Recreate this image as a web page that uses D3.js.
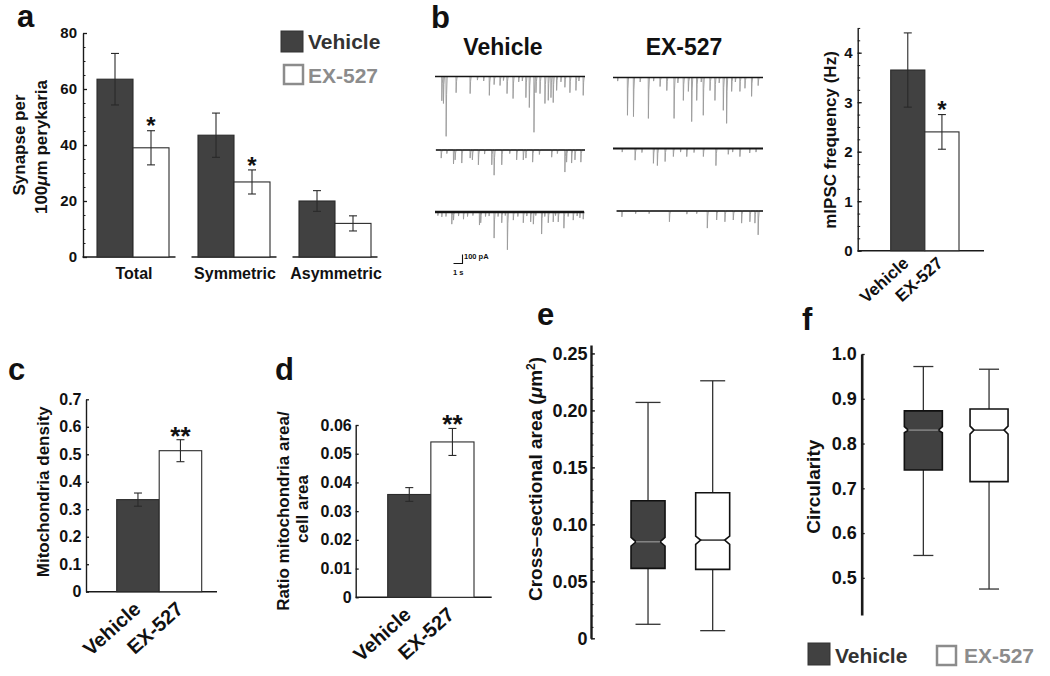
<!DOCTYPE html>
<html><head><meta charset="utf-8">
<script src="https://cdn.jsdelivr.net/npm/d3@7"></script>
<style>
body{margin:0;background:#fff;}
svg{display:block;}
</style></head><body>
<svg id="fig" width="1050" height="676"></svg>
<script>
// ---------------- DATA ----------------
const groups = ["Vehicle", "EX-527"];

// a: synapses per 100 µm perykaria
const synapseCategories = ["Total", "Symmetric", "Asymmetric"];
const synapseVehicle = [63.5, 43.5, 20.0];
const synapseVehicleErr = [9.2, 7.9, 3.7];
const synapseEX = [39.0, 26.8, 12.0];
const synapseEXErr = [6.1, 4.3, 2.7];
const synapseSig = ["*", "*", ""];
const synapseTicks = [0, 20, 40, 60, 80];
const synapseMinor = d3.range(0, 81, 5);

// b: mIPSC frequency
const mipscValues = [3.65, 2.40];
const mipscErr = [0.75, 0.35];
const mipscSig = ["", "*"];
const mipscTicks = [0, 1, 2, 3, 4];
const mipscMinor = d3.range(0, 4.51, 0.25);

// b: example traces, events [time s, amplitude pA]
const traceVehicle1 = [[0.74,270],[0.92,300],[1.22,665],[2.33,180],[3.89,190],[4.7,40],[5.4,50],[6.03,210],[6.56,90],[7.22,100],[7.6,45],[8.0,190],[8.67,245],[9.3,60],[9.7,50],[10.1,235],[10.48,345],[11.0,620],[11.22,180],[11.67,190],[12.22,300],[12.59,265],[12.89,235],[13.14,290],[13.52,155],[14.0,60],[14.44,120],[15.0,180],[15.67,155],[16.0,50],[16.48,210]];
const traceVehicle2 = [[0.67,90],[1.3,40],[2.04,155],[2.22,110],[2.96,145],[3.89,90],[4.14,110],[4.81,165],[5.5,45],[6.3,165],[6.56,280],[7.41,165],[8.3,40],[9.07,110],[9.81,110],[10.1,90],[10.85,135],[11.6,50],[12.97,80],[13.6,40],[14.44,245],[14.63,135],[15.19,145],[15.56,110],[16.22,135]];
const traceVehicle3 = [[0.3,40],[0.74,55],[1.2,50],[1.85,135],[2.04,90],[2.6,45],[3.15,80],[3.6,50],[4.2,40],[4.93,145],[5.07,120],[5.6,50],[6.0,45],[6.56,290],[7.0,50],[7.41,120],[7.8,40],[8.04,420],[8.7,90],[9.2,50],[9.81,120],[10.2,45],[10.63,110],[10.93,135],[11.2,40],[11.85,245],[12.2,50],[12.59,120],[13.14,110],[13.4,40],[13.7,110],[14.33,180],[14.8,50],[15.37,90],[15.8,45],[16.11,65],[16.48,80]];
const traceEX1 = [[0.5,40],[1.59,420],[2.26,435],[3.0,50],[3.92,455],[4.5,40],[5.22,100],[5.97,145],[6.78,455],[7.2,60],[7.81,255],[8.37,155],[8.74,490],[9.3,255],[9.8,50],[10.03,420],[10.78,145],[11.33,255],[11.8,60],[12.26,365],[12.63,510],[13.19,155],[13.6,50],[14.11,155],[14.67,120],[15.41,210],[16.14,90]];
const traceEX2 = [[1.0,40],[2.44,130],[3.2,45],[4.48,165],[4.92,190],[5.78,145],[6.7,90],[7.5,40],[8.19,90],[9.0,45],[10.04,90],[11.44,190],[12.81,65],[13.3,40],[14.11,90],[15.2,50],[15.9,40]];
const traceEX3 = [[0.97,65],[2.5,30],[4.0,30],[6.26,120],[8.2,35],[9.3,30],[10.48,190],[11.52,100],[12.44,120],[13.37,100],[14.3,135],[15.22,120],[15.78,135],[16.14,265]];

// c: mitochondria density
const densityValues = [0.335, 0.513];
const densityErr = [0.024, 0.040];
const densitySig = ["", "**"];
const densityTicks = [0, 0.1, 0.2, 0.3, 0.4, 0.5, 0.6, 0.7];

// d: ratio mitochondria area / cell area
const ratioValues = [0.0358, 0.0541];
const ratioErr = [0.0024, 0.0047];
const ratioSig = ["", "**"];
const ratioTicks = [0, 0.01, 0.02, 0.03, 0.04, 0.05, 0.06];

// e, f: box stats [lowWhisker, q1, notchLow, median, notchHigh, q3, highWhisker]
const areaVehicle = [0.0123, 0.0614, 0.0810, 0.0847, 0.0886, 0.1207, 0.2070];
const areaEX = [0.0067, 0.0605, 0.0825, 0.0862, 0.0897, 0.1277, 0.2260];
const areaTicks = [0, 0.05, 0.10, 0.15, 0.20, 0.25];
const areaMinor = d3.range(0, 0.255, 0.01);
const circVehicle = [0.550, 0.741, 0.824, 0.830, 0.838, 0.873, 0.972];
const circEX = [0.475, 0.715, 0.821, 0.830, 0.839, 0.877, 0.966];
const circTicks = [0.5, 0.6, 0.7, 0.8, 0.9, 1.0];

// ---------------- STYLE ----------------
const FONT = "'Liberation Sans', Arial, Helvetica, sans-serif";
const DARK = "#414141";
const EDGE = "#2b2b2b";
const GREY = "#8c8c8c";
const svg = d3.select("#fig").attr("font-family", FONT).attr("font-weight", "bold");

function txt(x, y, s, size, opts = {}) {
  const t = svg.append("text").attr("x", x).attr("y", y).text(s)
    .attr("font-size", size).attr("font-weight", "bold").attr("fill", opts.fill || "#111")
    .attr("text-anchor", opts.anchor || "start");
  if (opts.rotate !== undefined) t.attr("transform", `rotate(${opts.rotate},${x},${y})`);
  return t;
}

function yAxis(x, scale, ticks, fmt, fs, pad, minor, sw, tickLen) {
  const g = svg.append("g").attr("transform", `translate(${x},0)`);
  g.call(d3.axisLeft(scale).tickValues(ticks).tickFormat(fmt).tickSize(-tickLen).tickSizeOuter(0).tickPadding(pad));
  g.attr("font-family", FONT).attr("font-size", fs).attr("font-weight", "bold");
  g.select(".domain").attr("stroke", "#1a1a1a").attr("stroke-width", sw);
  g.selectAll(".tick line").attr("stroke", "#1a1a1a").attr("stroke-width", 1.3);
  g.selectAll(".tick text").attr("fill", "#111");
  if (minor) {
    const m = svg.append("g").attr("transform", `translate(${x},0)`);
    m.call(d3.axisLeft(scale).tickValues(minor).tickFormat("").tickSize(-2.5).tickSizeOuter(0));
    m.select(".domain").remove();
    m.selectAll(".tick line").attr("stroke", "#1a1a1a").attr("stroke-width", 1);
  }
  return g;
}

function bar(x, w, y, v, fill) {
  svg.append("rect").attr("x", x).attr("width", w).attr("y", y(v)).attr("height", y(0) - y(v))
    .attr("fill", fill).attr("stroke", EDGE).attr("stroke-width", 1.1);
}
function errBar(cx, y, v, e) {
  const g = svg.append("g").attr("stroke", "#2a2a2a").attr("stroke-width", 1.1);
  g.append("line").attr("x1", cx).attr("x2", cx).attr("y1", y(v - e)).attr("y2", y(v + e));
  g.append("line").attr("x1", cx - 4).attr("x2", cx + 4).attr("y1", y(v - e)).attr("y2", y(v - e));
  g.append("line").attr("x1", cx - 4).attr("x2", cx + 4).attr("y1", y(v + e)).attr("y2", y(v + e));
}
function sigMark(cx, y, v, e, s, fs) {
  if (!s) return;
  txt(cx, y(v + e) - 10 + 0.57 * fs, s, fs, { anchor: "middle" });
}
function panelLabel(x, y, s) { txt(x, y, s, 31); }

// ---------------- PANEL a ----------------
panelLabel(17, 27, "a");
const ya = d3.scaleLinear().domain([0, 80]).range([257, 33]);
const xa = d3.scaleBand().domain(synapseCategories).range([82.5, 385.5]);
const xaInner = d3.scaleBand().domain(groups).range([0, 72]);
yAxis(83, ya, synapseTicks, d3.format("d"), 15, 6, synapseMinor, 1.4, 4);
synapseCategories.forEach((c, i) => {
  const c0 = xa(c) + xa.bandwidth() / 2 - 36;
  const bw = xaInner.bandwidth();
  svg.append("line").attr("x1", i === 0 ? xa(c) : xa(c) + 8).attr("x2", xa(c) + xa.bandwidth() - 8)
    .attr("y1", ya(0)).attr("y2", ya(0)).attr("stroke", "#1a1a1a").attr("stroke-width", 1.4);
  bar(c0 + xaInner("Vehicle"), bw, ya, synapseVehicle[i], DARK);
  bar(c0 + xaInner("EX-527"), bw, ya, synapseEX[i], "#fff");
  errBar(c0 + xaInner("Vehicle") + bw / 2, ya, synapseVehicle[i], synapseVehicleErr[i]);
  errBar(c0 + xaInner("EX-527") + bw / 2, ya, synapseEX[i], synapseEXErr[i]);
  sigMark(c0 + xaInner("EX-527") + bw / 2, ya, synapseEX[i], synapseEXErr[i], synapseSig[i], 24);
  txt(xa(c) + xa.bandwidth() / 2 + 1, 278.5, c, 16, { anchor: "middle" });
});
txt(24.5, 145, "Synapse per", 17, { anchor: "middle", rotate: -90 });
const aLab = txt(47, 147, "100", 17, { anchor: "middle", rotate: -90 });
aLab.append("tspan").attr("font-style", "italic").text("\u03BC");
aLab.append("tspan").text("m perykaria");
// legend a
svg.append("rect").attr("x", 281).attr("y", 31).attr("width", 22).attr("height", 21).attr("fill", DARK).attr("stroke", "#333");
txt(308, 49, groups[0], 21, { fill: "#333" });
svg.append("rect").attr("x", 284).attr("y", 65).attr("width", 19).attr("height", 19).attr("fill", "#fff").attr("stroke", GREY).attr("stroke-width", 2.5);
txt(308, 83, groups[1], 21, { fill: GREY });

// ---------------- PANEL b traces ----------------
panelLabel(431, 28, "b");
txt(503, 55, "Vehicle", 23, { anchor: "middle" });
txt(684, 55, "EX-527", 23, { anchor: "middle" });
const tScale = d3.scaleLinear().domain([0, 16.7]).range([0, 150]);
const aScale = d3.scaleLinear().domain([0, 100]).range([0, 9]);
function drawTrace(events, x0, baseY, t0, t1, dark) {
  const pts = [[t0, 0]];
  events.slice().sort((a, b) => a[0] - b[0]).forEach(([t, a]) => {
    pts.push([t, 0], [t + 0.02, a], [t + 0.07, a * 0.3], [t + 0.14, 0]);
  });
  pts.push([t1, 0]);
  const line = d3.line().x(d => x0 + tScale(d[0])).y(d => baseY + aScale(d[1]));
  svg.append("path").attr("d", line(pts)).attr("fill", "none").attr("stroke", "#9a9a9a").attr("stroke-width", 0.9);
  svg.append("line").attr("x1", x0 + tScale(t0)).attr("x2", x0 + tScale(t1)).attr("y1", baseY).attr("y2", baseY)
    .attr("stroke", "#151515").attr("stroke-width", dark || 1.6);
}
drawTrace(traceVehicle1, 435, 76.5, 0, 16.7);
drawTrace(traceVehicle2, 435, 150, 0.1, 16.7);
drawTrace(traceVehicle3, 435, 212, 0, 16.6, 2.3);
drawTrace(traceEX1, 613, 77.5, 0, 16.7);
drawTrace(traceEX2, 613, 148.5, 0, 16.7, 1.9);
drawTrace(traceEX3, 613, 211, 0.4, 16.7);
// scale bar: 1 s, 100 pA
const sbX = 462.5, sbY = 263.5;
svg.append("path").attr("d", `M${sbX - tScale(1)},${sbY}H${sbX}V${sbY - aScale(100)}`)
  .attr("fill", "none").attr("stroke", "#111").attr("stroke-width", 1.1);
txt(464, 259, "100 pA", 7.5);
txt(453, 275, "1 s", 7.5);

// ---------------- PANEL b bars ----------------
const yb = d3.scaleLinear().domain([0, 4.5]).range([250.7, 27.95]);
const xb = d3.scaleBand().domain(groups).range([890.7, 959]);
yAxis(857.7, yb, mipscTicks, d3.format("d"), 15, 5, mipscMinor, 1.4, 4);
svg.append("line").attr("x1", 857.7).attr("x2", 984).attr("y1", yb(0)).attr("y2", yb(0)).attr("stroke", "#1a1a1a").attr("stroke-width", 1.4);
groups.forEach((gname, i) => {
  bar(xb(gname), xb.bandwidth(), yb, mipscValues[i], i === 0 ? DARK : "#fff");
  const cx = xb(gname) + xb.bandwidth() / 2;
  errBar(cx, yb, mipscValues[i], mipscErr[i]);
  sigMark(cx, yb, mipscValues[i], mipscErr[i], mipscSig[i], 24);
  txt(cx + 2, yb(0) + 14, gname, 17, { anchor: "end", rotate: -42 });
});
txt(835.5, 140, "mIPSC frequency (Hz)", 17, { anchor: "middle", rotate: -90 });

// ---------------- PANEL c ----------------
panelLabel(8, 380, "c");
const yc = d3.scaleLinear().domain([0, 0.7]).range([591.7, 399.3]);
const xc = d3.scaleBand().domain(groups).range([116.7, 201.7]);
yAxis(86, yc, densityTicks, d => d === 0 ? "0" : d3.format(".1f")(d), 16, 4.5, null, 1.4, 3);
svg.append("line").attr("x1", 86).attr("x2", 217).attr("y1", yc(0)).attr("y2", yc(0)).attr("stroke", "#1a1a1a").attr("stroke-width", 1.4);
groups.forEach((gname, i) => {
  bar(xc(gname), xc.bandwidth(), yc, densityValues[i], i === 0 ? DARK : "#fff");
  const cx = xc(gname) + xc.bandwidth() / 2;
  errBar(cx, yc, densityValues[i], densityErr[i]);
  sigMark(cx, yc, densityValues[i], densityErr[i], densitySig[i], 26);
  txt(cx + 4, yc(0) + 19, gname, 20, { anchor: "end", rotate: -42 });
});
txt(49, 491.7, "Mitochondria density", 17, { anchor: "middle", rotate: -90 });

// ---------------- PANEL d ----------------
panelLabel(275, 380, "d");
const yd = d3.scaleLinear().domain([0, 0.06]).range([597.3, 425]);
const xd = d3.scaleBand().domain(groups).range([387.7, 474]);
yAxis(355.7, yd, ratioTicks, d => d === 0 ? "0" : d3.format(".2f")(d), 16, 4, null, 1.4, 3);
svg.append("line").attr("x1", 355.7).attr("x2", 491.7).attr("y1", yd(0)).attr("y2", yd(0)).attr("stroke", "#1a1a1a").attr("stroke-width", 1.4);
groups.forEach((gname, i) => {
  bar(xd(gname), xd.bandwidth(), yd, ratioValues[i], i === 0 ? DARK : "#fff");
  const cx = xd(gname) + xd.bandwidth() / 2;
  errBar(cx, yd, ratioValues[i], ratioErr[i]);
  sigMark(cx, yd, ratioValues[i], ratioErr[i], ratioSig[i], 26);
  txt(cx + 3, yd(0) + 19, gname, 20, { anchor: "end", rotate: -42 });
});
txt(289, 511, "Ratio mitochondria area/", 17, { anchor: "middle", rotate: -90 });
txt(307.5, 509, "cell area", 17, { anchor: "middle", rotate: -90 });

// ---------------- box plot helper ----------------
function boxPlot(cx, y, s, hw, capHw, notch, fill, medColor) {
  const [lo, q1, nl, md, nh, q3, hi] = s;
  const g = svg.append("g");
  g.append("line").attr("x1", cx).attr("x2", cx).attr("y1", y(q3)).attr("y2", y(hi)).attr("stroke", "#333").attr("stroke-width", 1.3);
  g.append("line").attr("x1", cx).attr("x2", cx).attr("y1", y(q1)).attr("y2", y(lo)).attr("stroke", "#333").attr("stroke-width", 1.3);
  g.append("line").attr("x1", cx - capHw).attr("x2", cx + capHw).attr("y1", y(hi)).attr("y2", y(hi)).attr("stroke", "#333").attr("stroke-width", 1.3);
  g.append("line").attr("x1", cx - capHw).attr("x2", cx + capHw).attr("y1", y(lo)).attr("y2", y(lo)).attr("stroke", "#333").attr("stroke-width", 1.3);
  const p = d3.path();
  p.moveTo(cx - hw, y(q3)); p.lineTo(cx + hw, y(q3)); p.lineTo(cx + hw, y(nh)); p.lineTo(cx + hw - notch, y(md));
  p.lineTo(cx + hw, y(nl)); p.lineTo(cx + hw, y(q1)); p.lineTo(cx - hw, y(q1)); p.lineTo(cx - hw, y(nl));
  p.lineTo(cx - hw + notch, y(md)); p.lineTo(cx - hw, y(nh)); p.closePath();
  g.append("path").attr("d", p.toString()).attr("fill", fill).attr("stroke", "#111").attr("stroke-width", 1.6);
  g.append("line").attr("x1", cx - hw + notch).attr("x2", cx + hw - notch).attr("y1", y(md)).attr("y2", y(md))
    .attr("stroke", medColor).attr("stroke-width", 1.4);
}

// ---------------- PANEL e ----------------
panelLabel(537, 325, "e");
const ye = d3.scaleLinear().domain([0, 0.2574]).range([638.3, 345]);
const xe = d3.scaleBand().domain(groups).range([615.7, 745]);
yAxis(591, ye, areaTicks, d => d === 0 ? "0" : d3.format(".2f")(d), 18, 3.5, areaMinor, 2.4, 4);
boxPlot(xe("Vehicle") + xe.bandwidth() / 2, ye, areaVehicle, 17, 12.5, 5, DARK, "#8a8a8a");
boxPlot(xe("EX-527") + xe.bandwidth() / 2, ye, areaEX, 17, 12.5, 5, "#fff", "#222");
const eLab = txt(541.5, 479, "Cross\u2013sectional area (", 19, { anchor: "middle", rotate: -90 });
eLab.append("tspan").attr("font-style", "italic").text("\u03BC");
eLab.append("tspan").text("m");
eLab.append("tspan").attr("baseline-shift", "super").attr("font-size", 12).text("2");
eLab.append("tspan").text(")");

// ---------------- PANEL f ----------------
panelLabel(802, 330, "f");
const yf = d3.scaleLinear().domain([0.417, 1.0]).range([615, 354]);
const xf = d3.scaleBand().domain(groups).range([890.5, 1021.9]);
yAxis(861.7, yf, circTicks, d3.format(".1f"), 18, 5, null, 2.6, 3);
boxPlot(xf("Vehicle") + xf.bandwidth() / 2, yf, circVehicle, 19, 10, 4, DARK, "#8a8a8a");
boxPlot(xf("EX-527") + xf.bandwidth() / 2, yf, circEX, 19, 10, 4, "#fff", "#222");
txt(820, 486.7, "Circularity", 19, { anchor: "middle", rotate: -90 });

// bottom legend
svg.append("rect").attr("x", 808).attr("y", 643).attr("width", 22).attr("height", 22).attr("fill", DARK).attr("stroke", "#333");
txt(835, 663, groups[0], 21, { fill: "#333" });
svg.append("rect").attr("x", 937).attr("y", 646).attr("width", 19).attr("height", 19).attr("fill", "#fff").attr("stroke", GREY).attr("stroke-width", 2.5);
txt(964, 663, groups[1], 21, { fill: GREY });
</script></body></html>
